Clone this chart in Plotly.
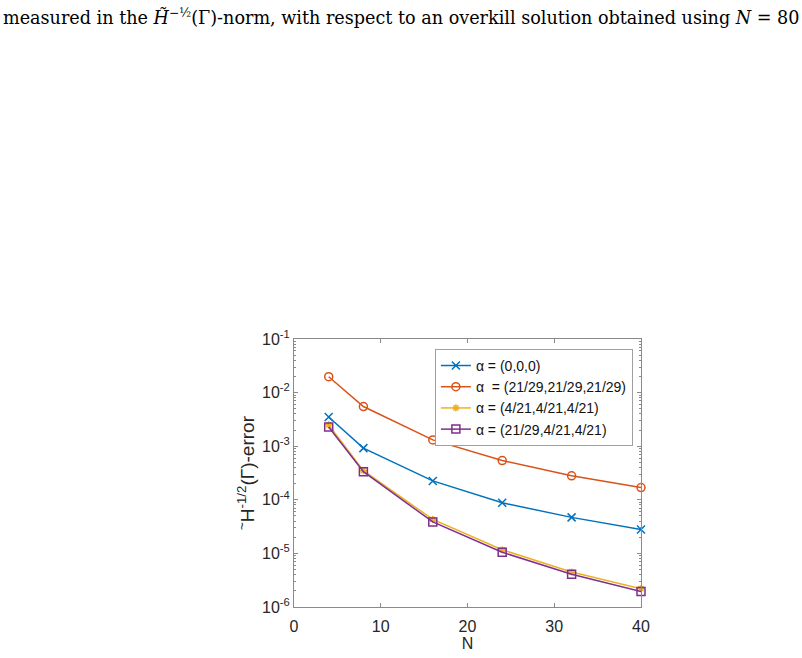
import plotly.graph_objects as go

N = [4, 8, 16, 24, 32, 40]
err_000 = [3.5e-3, 9.2e-4, 2.25e-4, 8.8e-5, 4.7e-5, 2.8e-5]
err_212929 = [1.98e-2, 5.5e-3, 1.31e-3, 5.4e-4, 2.8e-4, 1.69e-4]
err_4_21 = [2.5e-3, 3.5e-4, 4.3e-5, 1.17e-5, 4.5e-6, 2.2e-6]
err_mixed = [2.28e-3, 3.34e-4, 3.86e-5, 1.05e-5, 4.08e-6, 1.95e-6]

names = ["α = (0,0,0)", "α  = (21/29,21/29,21/29)", "α = (4/21,4/21,4/21)", "α = (21/29,4/21,4/21)"]
colors = ["#0072BD", "#D95319", "#EDB120", "#7E2F8E"]
symbols = ["x-thin-open", "circle-open", "asterisk-open", "square-open"]
sizes = [8, 8, 6, 8]
series = [err_000, err_212929, err_4_21, err_mixed]

ytickvals = [1e-6, 1e-5, 1e-4, 1e-3, 1e-2, 1e-1]
yticktext = ["10<sup>-6</sup>", "10<sup>-5</sup>", "10<sup>-4</sup>", "10<sup>-3</sup>", "10<sup>-2</sup>", "10<sup>-1</sup>"]
yminorvals = [m * 10.0 ** e for e in range(-6, -1) for m in range(2, 10)]
xtickvals = [0, 10, 20, 30, 40]

fig = go.Figure()
for ys, nm, c, s, sz in zip(series, names, colors, symbols, sizes):
    fig.add_trace(go.Scatter(
        x=N, y=ys, name=nm, mode="lines+markers", cliponaxis=False,
        line=dict(color=c, width=1.5),
        marker=dict(symbol=s, size=sz, color=c, line=dict(color=c, width=1.5)),
    ))

axis_color = "#262626"
fig.update_layout(
    width=802, height=658,
    margin=dict(l=294, r=161, t=339, b=49, pad=0),
    paper_bgcolor="white", plot_bgcolor="white",
    font=dict(family="Liberation Sans, Arial, sans-serif", size=15, color=axis_color),
    legend=dict(
        x=0.406, y=0.963, xanchor="left", yanchor="top",
        bgcolor="white", bordercolor="#a0a0a0", borderwidth=1,
        font=dict(size=14, color="#111111"),
        itemwidth=30, tracegroupgap=0,
    ),
    xaxis=dict(
        range=[0, 40], tickvals=xtickvals, ticks="inside", ticklen=4,
        showline=True, linecolor="#8a8a8a", linewidth=1, mirror="ticks",
        showgrid=False, zeroline=False, tickcolor="#8a8a8a",
        tickfont=dict(size=16), ticklabelstandoff=5,
        title=dict(text="N", font=dict(size=16), standoff=0),
    ),
    yaxis=dict(
        type="log", range=[-6, -1], tickvals=ytickvals, ticktext=yticktext,
        ticks="inside", ticklen=4, tickcolor="#8a8a8a",
        showline=True, linecolor="#8a8a8a", linewidth=1, mirror="ticks",
        showgrid=False, zeroline=False,
        tickfont=dict(size=16),
        minor=dict(tickmode="array", tickvals=yminorvals, ticks="inside", ticklen=2,
                   tickcolor="#8a8a8a", showgrid=False),
        title=dict(text="<sup>~</sup>H<sup>-1/2</sup>(Γ)-error", font=dict(size=19), standoff=2),
    ),
    annotations=[dict(
        xref="paper", yref="paper", x=(1 - 294) / 347, y=1 + (339 - 1) / 270,
        xanchor="left", yanchor="top", showarrow=False,
        text="measured in the <i>H̃</i><sup>−½</sup>(Γ)-norm, with respect to an overkill solution obtained using <i>N</i> = 80",
        font=dict(family="DejaVu Serif, serif", size=17.6, color="black"),
    )],
)

fig.write_html("out.html")
